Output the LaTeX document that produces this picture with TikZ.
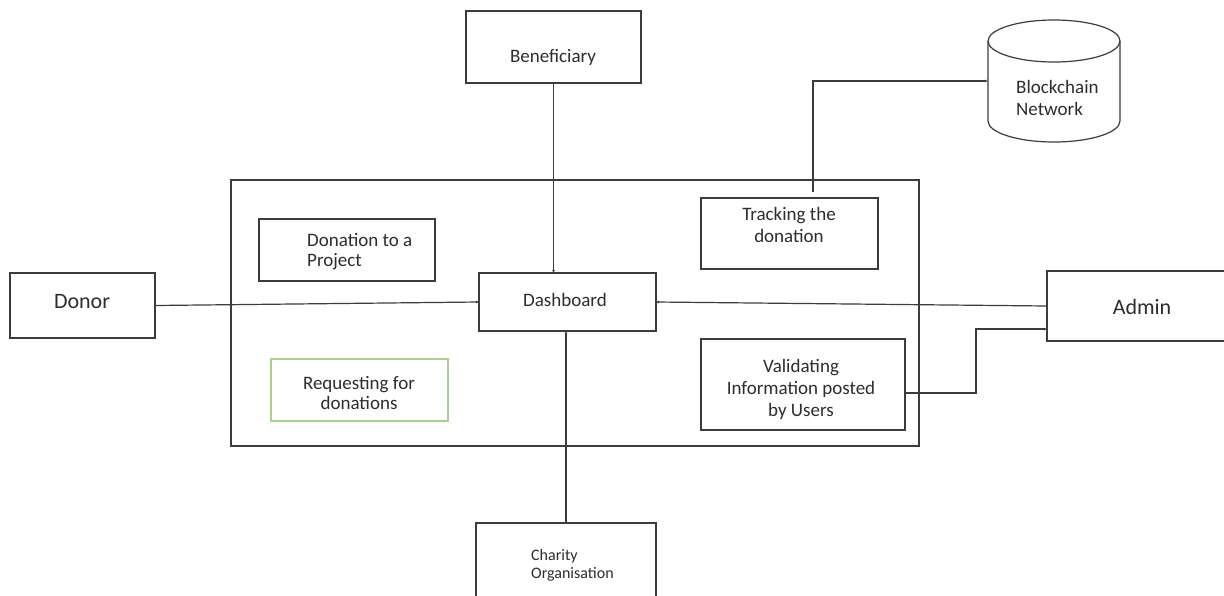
\documentclass[tikz,border=0pt]{standalone}
\usepackage{fontspec}
\setmainfont{Carlito}
\usetikzlibrary{arrows.meta,calc}
\definecolor{linecol}{RGB}{60,60,60}
\definecolor{txtcol}{RGB}{45,45,45}
\definecolor{greenbox}{RGB}{169,209,142}
\tikzset{
  box/.style={draw=linecol, line width=1.2pt, inner sep=0pt, outer sep=0pt},
  lbl/.style={text=txtcol, inner sep=0pt, font=\fontsize{19}{22}\selectfont, align=center},
  conn/.style={draw=linecol, line width=1.2pt, -{Latex[length=3pt,width=3pt]}}
}
\begin{document}
\begin{tikzpicture}[x=1pt,y=-1pt]
\clip (0,0) rectangle (1224,595);
\fill[white] (0,0) rectangle (1224,595);
% boxes
\node[box, minimum width=688pt, minimum height=266pt] (main) at (575,313) {};
\node[box, minimum width=175pt, minimum height=72pt] (ben) at (553.5,47) {};
\node[box, minimum width=177pt, minimum height=71pt] (trk) at (789.5,233.5) {};
\node[box, minimum width=176pt, minimum height=62pt] (don) at (347,250) {};
\node[box, minimum width=177pt, minimum height=58pt] (dash) at (567.5,302) {};
\node[box, minimum width=145pt, minimum height=65pt] (donor) at (82.5,305.5) {};
\node[box, minimum width=193pt, minimum height=70pt] (admin) at (1143.5,306) {};
\node[box, draw=greenbox, minimum width=177pt, minimum height=62pt] (req) at (359.5,390) {};
\node[box, minimum width=204pt, minimum height=91pt] (val) at (803,384.5) {};
\node[box, minimum width=180pt, minimum height=87pt] (char) at (566,566.5) {};
% cylinder
\node[inner sep=0pt, minimum width=132pt, minimum height=122pt] (bc) at (1054,81) {};
\draw[linecol, line width=1.2pt, fill=white] (988,41) -- (988,121) arc (180:360:66pt and 21pt) -- (1120,41);
\draw[linecol, line width=1.2pt] (1054,41) ellipse (66pt and 21pt);
% labels
\node[lbl] at (553,57) {Beneficiary};
\node[lbl, anchor=west, align=left] at (1016,98) {Blockchain\\Network};
\node[lbl] at (789,225) {Tracking the\\donation};
\node[lbl, anchor=west, align=left, font=\fontsize{19}{20}\selectfont] at (307,252) {Donation to a\\Project};
\node[lbl] at (565,300) {Dashboard};
\node[lbl, font=\fontsize{22}{26}\selectfont] at (82,302) {Donor};
\node[lbl, font=\fontsize{22}{26}\selectfont] at (1142,307) {Admin};
\node[lbl, font=\fontsize{19}{20}\selectfont] at (359,393) {Requesting for\\donations};
\node[lbl] at (801,389) {Validating\\Information posted\\by Users};
\node[lbl, anchor=west, align=left, font=\fontsize{16}{18}\selectfont] at (531,565) {Charity\\Organisation};
% connectors
\draw[conn] (ben.south) -- (ben.south |- dash.north);
\draw[conn] (donor.east) -- (dash.west);
\draw[conn] (admin.west) -- (dash.east);
\draw[conn] (char.north) -- (char.north |- dash.south);
\coordinate (t1) at ($(trk.north)+(23.5,-6)$);
\draw[conn] (t1) |- (bc.west);
\coordinate (v1) at ($(val.east)+(0,8.5)$);
\coordinate (a1) at ($(admin.west)+(0,23)$);
\draw[conn] (v1) -- ++(71,0) |- (a1);
\end{tikzpicture}
\end{document}
